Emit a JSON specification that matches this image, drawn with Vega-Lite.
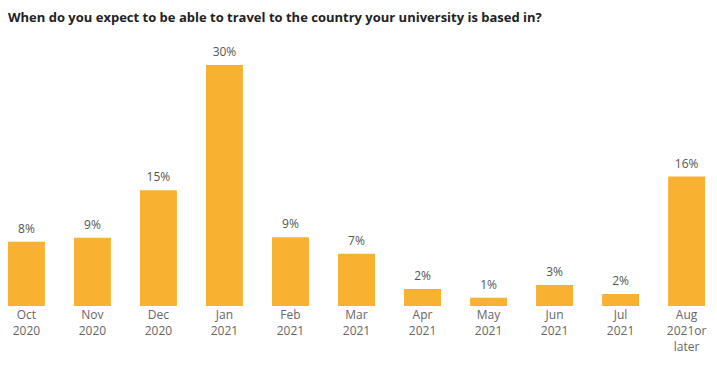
{
  "$schema": "https://vega.github.io/schema/vega-lite/v6.json",
  "autosize": "none",
  "width": 713,
  "height": 266,
  "padding": {"left": 0, "top": 40, "right": 4, "bottom": 72},
  "background": "white",
  "title": {
    "text": "When do you expect to be able to travel to the country your university is based in?",
    "anchor": "start",
    "frame": "group",
    "font": "Open Sans",
    "fontSize": 13,
    "fontWeight": "bold",
    "color": "#222222",
    "offset": 15,
    "dx": 8
  },
  "data": {
    "values": [
      {"month": "Oct|2020", "pct": 8.0, "label": "8%"},
      {"month": "Nov|2020", "pct": 8.5, "label": "9%"},
      {"month": "Dec|2020", "pct": 14.4, "label": "15%"},
      {"month": "Jan|2021", "pct": 30.0, "label": "30%"},
      {"month": "Feb|2021", "pct": 8.55, "label": "9%"},
      {"month": "Mar|2021", "pct": 6.5, "label": "7%"},
      {"month": "Apr|2021", "pct": 2.1, "label": "2%"},
      {"month": "May|2021", "pct": 1.03, "label": "1%"},
      {"month": "Jun|2021", "pct": 2.6, "label": "3%"},
      {"month": "Jul|2021", "pct": 1.5, "label": "2%"},
      {"month": "Aug|2021or|later", "pct": 16.1, "label": "16%"}
    ]
  },
  "encoding": {
    "x": {
      "field": "month",
      "type": "nominal",
      "sort": null,
      "scale": {"paddingInner": 0.44, "paddingOuter": 0.12},
      "axis": {
        "title": null,
        "domain": false,
        "ticks": false,
        "labelAngle": 0,
        "labelPadding": 3,
        "labelFont": "Open Sans",
        "labelFontSize": 12,
        "labelColor": "#666666",
        "labelLineHeight": 16,
        "labelExpr": "split(datum.value, '|')"
      }
    },
    "y": {
      "field": "pct",
      "type": "quantitative",
      "scale": {"domain": [0, 33.1], "nice": false},
      "axis": null
    }
  },
  "layer": [
    {"mark": {"type": "bar", "color": "#F9B132"}},
    {
      "mark": {"type": "text", "baseline": "bottom", "dy": -6, "font": "Open Sans", "fontSize": 12, "color": "#555555"},
      "encoding": {"text": {"field": "label", "type": "nominal"}}
    }
  ],
  "config": {"view": {"stroke": null}}
}
